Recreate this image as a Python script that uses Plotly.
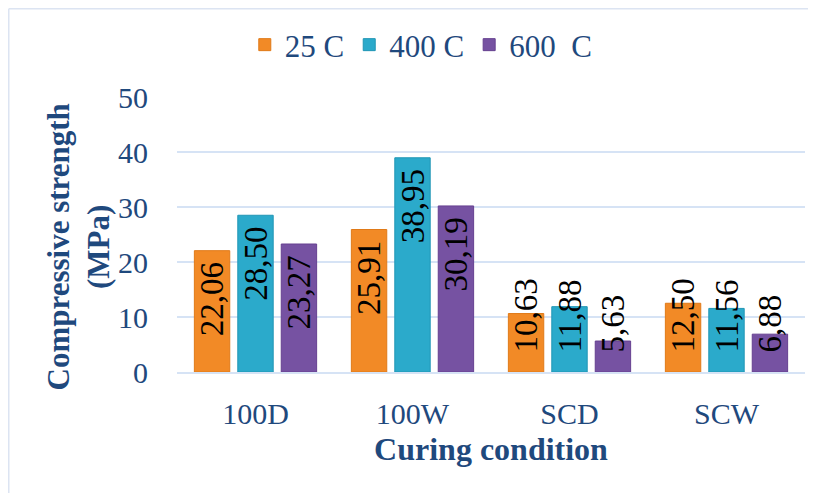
import plotly.graph_objects as go

categories = ["100D", "100W", "SCD", "SCW"]
series_names = ["25 C", "400 C", "600  C"]
vals_25 = [22.06, 25.91, 10.63, 12.50]
vals_400 = [28.50, 38.95, 11.88, 11.56]
vals_600 = [23.27, 30.19, 5.63, 6.88]
y_ticks = [0, 10, 20, 30, 40, 50]

colors = ["#F28A26", "#2BAACB", "#7652A2"]
line_colors = ["#E07A18", "#2096B5", "#664090"]
font_family = "Times New Roman, Liberation Serif, Tinos, serif"
text_blue = "#1F497D"
SMALL = 15  # labels of shorter bars are anchored at the bar base
NB = "\u00a0"


def label(v, anchor):
    s = f"{v:.2f}".replace(".", ",")
    return s + NB if anchor == "end" else NB * 2 + s


fig = go.Figure()
for i, (name, vals, c, lc) in enumerate(zip(series_names, [vals_25, vals_400, vals_600], colors, line_colors)):
    for anchor, keep in (("end", lambda v: v >= SMALL), ("start", lambda v: v < SMALL)):
        ys = [v if keep(v) else None for v in vals]
        fig.add_trace(go.Bar(
            x=categories, y=ys, name=name, offsetgroup=str(i), legendgroup=str(i),
            showlegend=(anchor == "end"),
            marker=dict(color=c, line=dict(color=lc, width=1)),
            text=[label(v, anchor) if keep(v) else "" for v in vals],
            textposition="inside", insidetextanchor=anchor, textangle=-90,
            constraintext="none", cliponaxis=False,
            textfont=dict(family=font_family, size=33, color="black"),
        ))

# page body has an 8px margin, so the figure is shifted by 8px; margins compensate
fig.update_layout(
    width=816, height=493,
    margin=dict(l=169, r=19, t=89, b=129, autoexpand=False),
    paper_bgcolor="white", plot_bgcolor="white",
    barmode="group", bargap=0.17, bargroupgap=0.185,
    font=dict(family=font_family, color=text_blue),
    legend=dict(orientation="h", x=0.389, xanchor="center", y=(364 - 37) / 275,
                yanchor="middle", font=dict(size=31, color=text_blue, family=font_family),
                bgcolor="rgba(0,0,0,0)", itemwidth=30, traceorder="normal"),
    xaxis=dict(title=dict(text="<b>Curing condition</b>", font=dict(size=32, color=text_blue), standoff=9),
               tickfont=dict(size=30, color=text_blue), showline=True, ticklabelstandoff=14,
               linecolor="#D6E3F5", linewidth=1.5, ticks=""),
    yaxis=dict(range=[0, 50], tickvals=y_ticks, tickfont=dict(size=30, color=text_blue),
               ticklabelstandoff=28,
               gridcolor="#D6E3F5", gridwidth=1.5, zeroline=False, showline=False, ticks=""),
    annotations=[dict(text="<b>Compressive strength<br>(MPa)</b>", xref="paper", yref="paper",
                      x=-99.5/628, y=(364 - 239) / 275, xanchor="center", yanchor="middle",
                      textangle=-90, showarrow=False,
                      font=dict(size=31, color=text_blue, family=font_family))],
    shapes=[
        dict(type="line", xref="paper", yref="paper", x0=-168.25/628, x1=1.2, y0=363.25/275, y1=363.25/275,
             line=dict(color="#DCE4F2", width=1.5)),
        dict(type="line", xref="paper", yref="paper", x0=-168.25/628, x1=-168.25/628, y0=-1, y1=363.25/275,
             line=dict(color="#DCE4F2", width=1.5)),
    ],
)

fig.write_html("out.html")
